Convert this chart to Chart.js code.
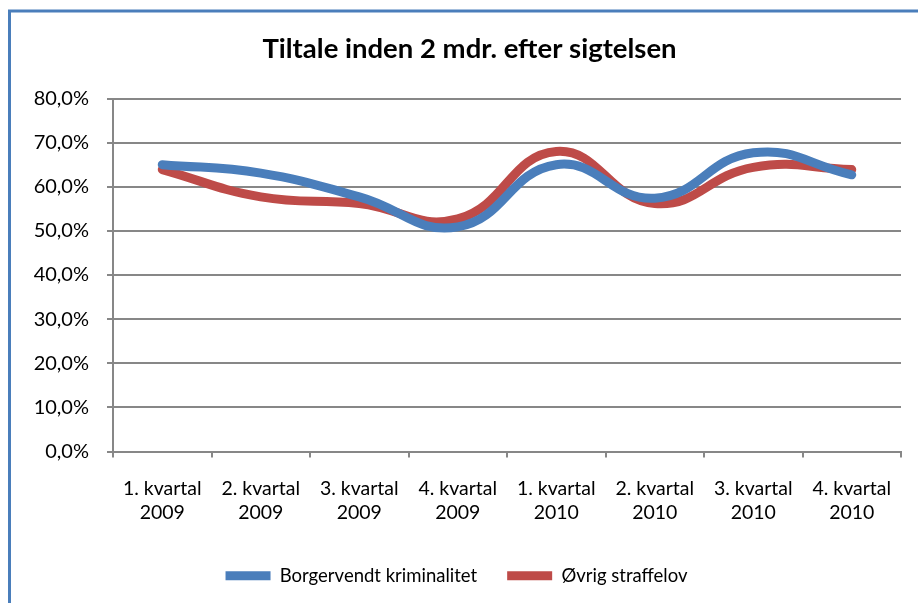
<!doctype html>
<html lang="da">
  <head>
    <meta charset="utf-8">
    <title>Tiltale inden 2 mdr. efter sigtelsen</title>
    <style>
      * { margin: 0; padding: 0; }
      body { background: white; }
      #myChart { display: block; }
    </style>
  </head>
  <body>
    <canvas id="myChart" width="918" height="603"></canvas>

    <script src="https://cdn.jsdelivr.net/npm/chart.js@4.4.1/dist/chart.umd.min.js"></script>
    <script>
    // data block
    const categories = [
      ['1. kvartal', '2009'], ['2. kvartal', '2009'], ['3. kvartal', '2009'], ['4. kvartal', '2009'],
      ['1. kvartal', '2010'], ['2. kvartal', '2010'], ['3. kvartal', '2010'], ['4. kvartal', '2010']
    ];
    const borgervendt = [65.0, 63.1, 57.7, 50.9, 65.0, 57.4, 67.7, 62.7];
    const oevrig = [63.9, 57.7, 56.2, 52.7, 68.0, 56.2, 64.4, 63.9];
    const yTickLabels = ['0,0%', '10,0%', '20,0%', '30,0%', '40,0%', '50,0%', '60,0%', '70,0%', '80,0%'];

    const font = 'Lato, "Open Sans", sans-serif';
    const gridColor = '#878787';

    // frame plugin - the blue border round the chart object, and nudge the title a bit right
    const frame = {
      id: 'frame',
      afterLayout(chart) {
        if (chart.titleBlock) {
          chart.titleBlock.left += 13;
          chart.titleBlock.right += 13;
        }
      },
      beforeDraw(chart) {
        const { ctx } = chart;
        ctx.save();
        ctx.fillStyle = 'white';
        ctx.fillRect(0, 0, chart.width, chart.height);
        ctx.strokeStyle = '#4a7ebb';
        ctx.lineWidth = 3;
        ctx.strokeRect(9.5, 11, 1200, 1200);
        ctx.restore();
      }
    };

    const data = {
      labels: categories,
      datasets: [{
        label: 'Borgervendt kriminalitet',
        data: borgervendt,
        borderColor: '#4a7ebb',
        backgroundColor: '#4a7ebb',
        borderWidth: 9,
        borderCapStyle: 'round',
        borderJoinStyle: 'round',
        tension: 0.45,
        pointRadius: 0,
        pointStyle: 'line'
      }, {
        label: 'Øvrig straffelov',
        data: oevrig,
        borderColor: '#be4b48',
        backgroundColor: '#be4b48',
        borderWidth: 9,
        borderCapStyle: 'round',
        borderJoinStyle: 'round',
        tension: 0.45,
        pointRadius: 0,
        pointStyle: 'line'
      }]
    };

    const config = {
      type: 'line',
      data: data,
      options: {
        responsive: false,
        animation: false,
        layout: { padding: { left: 12, right: 17, top: 12, bottom: 8 } },
        plugins: {
          title: {
            display: true,
            text: 'Tiltale inden 2 mdr. efter sigtelsen',
            color: '#000',
            font: { family: font, size: 27.5, weight: 'bold' },
            padding: { top: 21, bottom: 32.5 }
          },
          legend: {
            position: 'bottom',
            labels: {
              usePointStyle: true,
              pointStyleWidth: 45,
              boxHeight: 16,
              color: '#000',
              padding: 30,
              font: { family: font, size: 18.5 }
            }
          },
          tooltip: { enabled: false }
        },
        scales: {
          x: {
            offset: true,
            grid: {
              offset: true,
              drawOnChartArea: false,
              color: gridColor,
              lineWidth: 2,
              tickLength: 6
            },
            border: { color: gridColor, width: 2 },
            ticks: {
              color: '#000',
              padding: 20,
              maxRotation: 0,
              font: { family: font, size: 19.5, lineHeight: 1.2 }
            },
            afterFit(scale) { scale.height = 85; }
          },
          y: {
            min: 0,
            max: 80,
            ticks: {
              stepSize: 10,
              color: '#000',
              padding: 18,
              font: { family: font, size: 20 },
              callback: (value, index) => yTickLabels[index]
            },
            grid: { color: gridColor, lineWidth: 2, tickLength: 6 },
            border: { color: gridColor, width: 2 },
            afterFit(scale) { scale.width = 101; }
          }
        }
      },
      plugins: [frame]
    };

    const myChart = new Chart(
      document.getElementById('myChart'),
      config
    );
    </script>
  </body>
</html>
